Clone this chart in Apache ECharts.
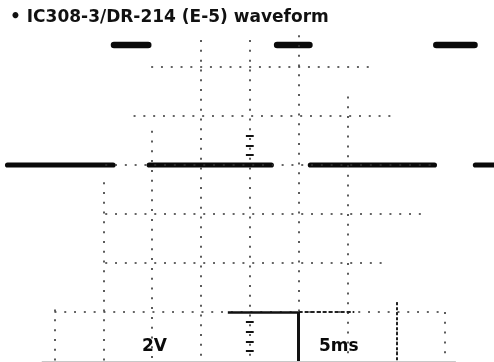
<!DOCTYPE html>
<html><head><meta charset="utf-8">
<script src="https://cdn.jsdelivr.net/npm/echarts@6/dist/echarts.min.js"></script>
<style>html,body{margin:0;padding:0;background:#fff}#c{width:494px;height:362px}</style>
</head><body><div id="c"></div>
<script>
// ---- text ----
const titleText = '\u2022 IC308-3/DR-214 (E-5) waveform';
const voltsPerDivLabel = '2V';
const timePerDivLabel = '5ms';

// ---- trace segments (time in ms, level in V; 5 ms/div, 2 V/div) ----
const segStart = [0.2, 11.1, 14.7, 27.8, 31.2, 44.1, 48.1];
const segEnd   = [11.0, 14.6, 27.2, 31.1, 43.9, 48.0, 50.0];
const segLevel = [2.0, 6.9, 2.0, 6.9, 2.0, 6.9, 2.0];
const highLevel = 6.9;

// ---- graticule (faded dotted lines as seen in the print) ----
const hGridLevels = [6, 4, 2, 0, -2, -4];
const hGridFrom   = [14.9, 13.1, 10.2, 10.2, 10.2, 5.0];
const hGridTo     = [37.7, 39.7, 44.0, 43.0, 39.2, 45.1];
const vGridTimes  = [5, 10, 15, 20, 25, 30, 35, 40, 45];
const vGridTop    = [-3.9, 1.3, 3.4, 7.1, 7.1, 7.3, 4.8, -3.6, -4.0];
const vGridBottom = -6;
const centerTime  = 25;
const centerTicks = [3.2, 2.8, 2.4, -4.4, -4.8, -5.2, -5.6];

// ---- readout box lines ----
const boxLevel = -4;
const boxSolidFrom = 22.75, boxSolidTo = 30.0, boxDashTo = 35.7;
const boxDividerTime = 30, boxDivider2Time = 40, boxDivider2Top = -3.6;
const baseFrom = 3.7, baseTo = 46.1, baseLevel = -6;

const chart = echarts.init(document.getElementById('c'), null, {renderer: 'canvas'});

const dotted = {color: '#333', width: 1.6, type: [2, 7.8]};
const ml = [];
for (let i = 0; i < hGridLevels.length; i++) {
  ml.push([{coord: [hGridFrom[i], hGridLevels[i]], lineStyle: dotted}, {coord: [hGridTo[i], hGridLevels[i]]}]);
}
for (let i = 0; i < vGridTimes.length; i++) {
  ml.push([{coord: [vGridTimes[i], vGridTop[i]], lineStyle: dotted}, {coord: [vGridTimes[i], vGridBottom]}]);
}
centerTicks.forEach(v => {
  ml.push([{coord: [centerTime - 0.4, v], lineStyle: {color: '#111', width: 2, type: 'solid'}}, {coord: [centerTime + 0.4, v]}]);
});
ml.push([{coord: [boxSolidFrom, boxLevel], lineStyle: {color: '#111', width: 2.5, type: 'solid'}}, {coord: [boxSolidTo, boxLevel]}]);
ml.push([{coord: [boxSolidTo, boxLevel], lineStyle: {color: '#222', width: 2, type: [4, 2]}}, {coord: [boxDashTo, boxLevel]}]);
ml.push([{coord: [boxDividerTime, boxLevel], lineStyle: {color: '#111', width: 3, type: 'solid'}}, {coord: [boxDividerTime, vGridBottom]}]);
ml.push([{coord: [boxDivider2Time, boxDivider2Top], lineStyle: {color: '#222', width: 2, type: [3, 2]}}, {coord: [boxDivider2Time, vGridBottom]}]);
ml.push([{coord: [baseFrom, baseLevel], lineStyle: {color: '#c8c8c8', width: 1, type: 'solid'}}, {coord: [baseTo, baseLevel]}]);

const series = [{
  type: 'line', data: [], silent: true,
  markLine: {symbol: 'none', silent: true, animation: false, label: {show: false}, data: ml}
}];
for (let i = 0; i < segStart.length; i++) {
  const hi = segLevel[i] === highLevel;
  series.push({
    type: 'line', silent: true, symbol: 'none', showSymbol: false, animation: false,
    data: [[segStart[i], segLevel[i]], [segEnd[i], segLevel[i]]],
    lineStyle: {color: '#0a0a0a', width: hi ? 6.6 : 5.2, cap: 'round'}
  });
}

chart.setOption({
  animation: false,
  backgroundColor: '#fff',
  grid: {left: 5.6, top: 18, width: 493.75, height: 343},
  xAxis: {type: 'value', min: 0, max: 50, show: false},
  yAxis: {type: 'value', min: -6, max: 8, show: false},
  graphic: [
    {type: 'text', left: 10, top: 9, style: {text: titleText, font: 'bold 17px "DejaVu Sans"', fill: '#111'}},
    {type: 'text', left: 142, top: 338, style: {text: voltsPerDivLabel, font: 'bold 17px "DejaVu Sans"', fill: '#0a0a0a'}},
    {type: 'text', left: 319, top: 338, style: {text: timePerDivLabel, font: 'bold 17px "DejaVu Sans"', fill: '#0a0a0a'}}
  ],
  series: series
});
</script></body></html>
